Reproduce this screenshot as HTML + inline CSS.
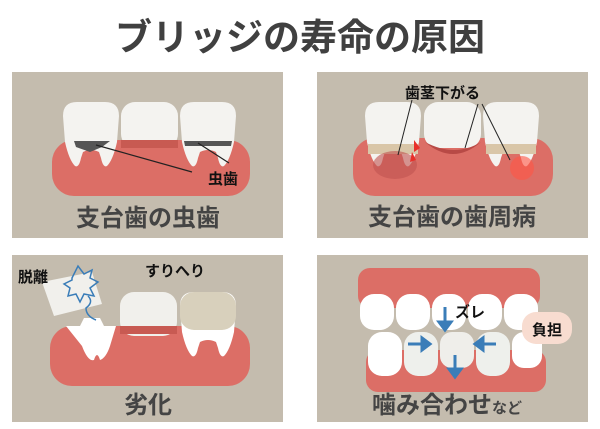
<!DOCTYPE html>
<html><head><meta charset="utf-8"><style>
body{margin:0;width:600px;height:424px;background:#fff;overflow:hidden}
svg text{font-family:"Liberation Sans","Noto Sans CJK JP",sans-serif;font-weight:bold}
</style></head><body>
<svg width="600" height="424" viewBox="0 0 600 424">
<defs>
<path id="t" d="M0 14 Q0 0 14 0 L42 0 Q56 0 56 14 L54 40 Q50 58 44 64 Q40 66 38 56 L36 50 Q28 46 20 50 L18 56 Q16 66 12 64 Q6 58 2 40 Z"/>
</defs>
<text x="300" y="50" text-anchor="middle" font-size="37" fill="#404040">ブリッジの寿命の原因</text>
<rect x="12" y="72" width="271" height="166" fill="#c4bcae"/>
<rect x="317" y="72" width="271" height="166" fill="#c4bcae"/>
<rect x="12" y="255" width="271" height="167" fill="#c4bcae"/>
<rect x="317" y="255" width="271" height="167" fill="#c4bcae"/>

<!-- Panel 1 -->
<rect x="52" y="140" width="198" height="56" rx="22" fill="#dc6e66"/>
<g fill="#f4f3f0">
<use href="#t" x="63" y="102"/>
<rect x="121" y="102" width="57" height="46" rx="14"/>
<use href="#t" x="180" y="102"/>
</g>
<rect x="121" y="140" width="57" height="8" fill="#c85a52"/>
<path d="M74 141 l36 0 l-8 6 l-12 5 l-14-5z" fill="#555"/>
<path d="M184 141 l48 0 l-1 5 l-46 0z" fill="#555"/>
<line x1="96" y1="145" x2="192" y2="172" stroke="#222" stroke-width="1.2"/>
<line x1="198" y1="143" x2="229" y2="163" stroke="#222" stroke-width="1.2"/>
<text x="208" y="184" font-size="15" fill="#111">虫歯</text>
<text x="148" y="226" text-anchor="middle" font-size="24" fill="#444">支台歯の虫歯</text>

<!-- Panel 2 -->
<rect x="353" y="138" width="200" height="58" rx="22" fill="#dc6e66"/>
<g fill="#f4f3f0">
<use href="#t" x="365" y="102"/>
<rect x="424" y="102" width="57" height="46" rx="14"/>
<use href="#t" x="483" y="102"/>
</g>
<rect x="368" y="144" width="50" height="10" fill="#d9c6a8"/>
<rect x="486" y="144" width="50" height="10" fill="#d9c6a8"/>
<path d="M425 142 q30 16 56 0 l0 0 q-28 24-56 0z" fill="#b84a46"/>
<ellipse cx="395" cy="165" rx="22" ry="14" fill="#c05450" opacity=".6"/>
<circle cx="522" cy="168" r="12" fill="#ff5544" opacity=".6"/>
<path d="M414 140 l6 8 l-6 4z M412 152 l4 8 l-6 2z" fill="#e8302a"/>
<line x1="412" y1="100" x2="398" y2="155" stroke="#222"/>
<line x1="478" y1="104" x2="465" y2="148" stroke="#222"/>
<line x1="482" y1="104" x2="510" y2="160" stroke="#222"/>
<text x="405" y="98" font-size="15" fill="#111">歯茎下がる</text>
<text x="452" y="225" text-anchor="middle" font-size="24" fill="#444">支台歯の歯周病</text>

<!-- Panel 3 -->
<rect x="50" y="326" width="200" height="60" rx="22" fill="#dc6e66"/>
<path d="M66 326 l14 0 l4-8 l16 0 l4 8 l12 0 l-6 20 q-4 12-10 14 q-3-10-6 0 q-6 2-12-14z" fill="#fff"/>
<rect x="120" y="292" width="57" height="44" rx="14" fill="#f1f0ec"/>
<rect x="120" y="326" width="57" height="8" fill="#c85a52"/>
<use href="#t" x="180" y="292" fill="#fff"/>
<rect x="180" y="292" width="56" height="38" rx="14" fill="#d8d0bc"/>
<path d="M42 282 l50-10 l10 32 l-48 12z" fill="#f1f0ec"/>
<path d="M72 278 l6-12 l6 8 l8-4 l-2 8 l8 4 l-8 6 l4 8 l-10-2 l-4 8 l-4-8 l-8 2 l2-8 l-6-4 l8-4z" fill="none" stroke="#3a7db8" stroke-width="1.5"/>
<path d="M88 296 q6 6 -2 12 q0 8 10 12" fill="none" stroke="#3a7db8" stroke-width="1.5"/>
<text x="18" y="282" font-size="15" fill="#111">脱離</text>
<text x="145" y="276" font-size="15" fill="#111">すりへり</text>
<text x="148" y="413" text-anchor="middle" font-size="24" fill="#444">劣化</text>

<!-- Panel 4 -->
<rect x="358" y="268" width="182" height="40" rx="12" fill="#dc6e66"/>
<rect x="366" y="350" width="180" height="42" rx="12" fill="#dc6e66"/>
<g fill="#fff">
<rect x="360" y="294" width="34" height="36" rx="14"/><rect x="396" y="294" width="34" height="36" rx="14"/>
<rect x="432" y="294" width="34" height="36" rx="14"/><rect x="468" y="294" width="34" height="36" rx="14"/>
<rect x="504" y="294" width="34" height="36" rx="14"/>
<rect x="368" y="332" width="34" height="44" rx="14"/><rect x="404" y="332" width="34" height="44" rx="14" fill="#eef0ec"/>
<rect x="440" y="332" width="34" height="36" rx="12" fill="#efeeea"/><rect x="476" y="332" width="34" height="44" rx="14" fill="#eef0ec"/>
<rect x="512" y="332" width="30" height="36" rx="12"/>
</g>
<g stroke="#3a7db8" stroke-width="3" fill="#3a7db8">
<line x1="445" y1="307" x2="445" y2="326"/><path d="M439 322 l6 8 l6-8z"/>
<line x1="455" y1="355" x2="455" y2="372"/><path d="M449 369 l6 8 l6-8z"/>
<line x1="408" y1="344" x2="425" y2="344"/><path d="M422 338 l8 6 l-8 6z"/>
<line x1="496" y1="344" x2="480" y2="344"/><path d="M483 338 l-8 6 l8 6z"/>
</g>
<rect x="522" y="312" width="50" height="32" rx="14" fill="#f8dcd0"/>
<text x="547" y="335" text-anchor="middle" font-size="15" fill="#111">負担</text>
<text x="455" y="317" font-size="15" fill="#111">ズレ</text>
<text x="372" y="413" font-size="24" fill="#444">噛み合わせ<tspan font-size="15">など</tspan></text>
</svg>
</body></html>
